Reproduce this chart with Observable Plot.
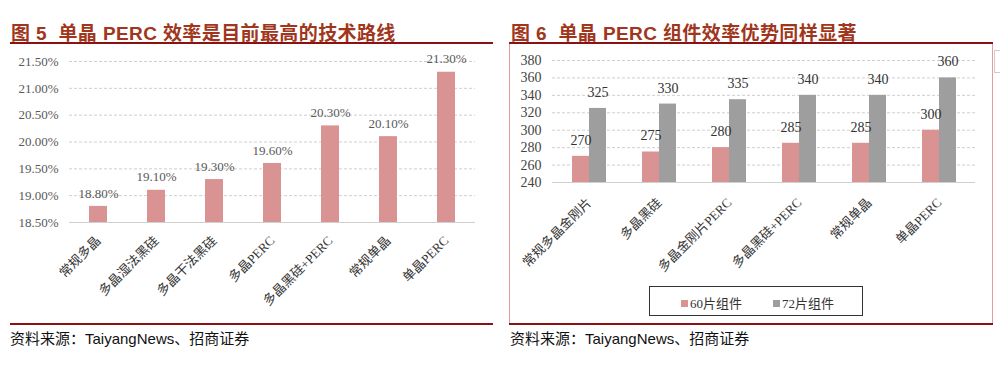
<!DOCTYPE html>
<html><head><meta charset="utf-8">
<script src="https://cdn.jsdelivr.net/npm/d3@7"></script>
<script src="https://cdn.jsdelivr.net/npm/@observablehq/plot@0.6"></script>
<style>
body{margin:0;background:#fff;}
#wrap{position:relative;width:1000px;height:375px;overflow:hidden;background:#fff;font-family:"Liberation Serif","Noto Sans CJK SC",serif;}
.title{position:absolute;top:18px;font-family:"Liberation Sans","Noto Sans CJK SC",sans-serif;font-weight:bold;font-size:19px;color:#A0361B;white-space:nowrap;letter-spacing:0.4px;}
.uline{position:absolute;top:42px;height:2px;background:#8B1212;}
.bline{position:absolute;top:323px;height:2px;background:#8B1212;}
.cap{position:absolute;top:327px;font-family:"Liberation Sans","Noto Sans CJK SC",sans-serif;font-size:15px;color:#111;white-space:nowrap;}
#box{position:absolute;left:509px;top:44px;width:482px;height:279px;border-left:1px solid #E59AA6;border-right:1px solid #E59AA6;box-sizing:content-box;}
#legend{position:absolute;left:649px;top:286px;width:212px;height:28px;border:1px solid #333;font-size:13px;color:#333;}
.li{position:absolute;top:6px;white-space:nowrap;}
.sw{display:inline-block;width:7px;height:7px;margin-right:2px;vertical-align:1px;}
#p1,#p2{position:absolute;}
#p1{left:0;top:44px;}
#p2{left:510px;top:44px;}
#gbox{position:absolute;left:994px;top:50px;width:12px;height:21px;border:1px solid #ccc;}
</style></head>
<body><div id="wrap">
<div class="title" style="left:11px;">图 5&nbsp;&nbsp;单晶 PERC 效率是目前最高的技术路线</div>
<div class="title" style="left:511px;">图 6&nbsp;&nbsp;单晶 PERC 组件效率优势同样显著</div>
<div class="uline" style="left:10px;width:483px;"></div>
<div class="uline" style="left:509px;width:484px;"></div>
<div id="p1"></div>
<div id="box"></div>
<div id="p2"></div>
<div id="legend">
  <span class="li" style="left:31px;"><span class="sw" style="background:#D99393"></span>60片组件</span>
  <span class="li" style="left:123px;"><span class="sw" style="background:#9E9E9E"></span>72片组件</span>
</div>
<div class="bline" style="left:10px;width:483px;"></div>
<div class="bline" style="left:509px;width:484px;"></div>
<div class="cap" style="left:10px;">资料来源：TaiyangNews、招商证券</div>
<div class="cap" style="left:510px;">资料来源：TaiyangNews、招商证券</div>
<div id="gbox"></div>
</div>
<script>
// Chart 5 data
const techCats = ["常规多晶","多晶湿法黑硅","多晶干法黑硅","多晶PERC","多晶黑硅+PERC","常规单晶","单晶PERC"];
const techEff = [18.80, 19.10, 19.30, 19.60, 20.30, 20.10, 21.30];
const effTicks = [18.5, 19.0, 19.5, 20.0, 20.5, 21.0, 21.5];

// Chart 6 data
const modCats = ["常规多晶金刚片","多晶黑硅","多晶金刚片PERC","多晶黑硅+PERC","常规单晶","单晶PERC"];
const mod60 = [270, 275, 280, 285, 285, 300];
const mod72 = [325, 330, 335, 340, 340, 360];
const powTicks = [240, 260, 280, 300, 320, 340, 360, 380];

const RED = "#D99393", GRAY = "#9E9E9E";
const serif = "Liberation Serif, Noto Sans CJK SC, serif";

const d1 = techCats.map((c,i)=>({cat:c, v:techEff[i]}));
const p1 = Plot.plot({
  width: 490, height: 280,
  marginLeft: 69, marginRight: 15, marginTop: 17, marginBottom: 102,
  style: {fontFamily: serif, background: "transparent", overflow: "visible"},
  x: {domain: techCats, paddingInner: 0.69, paddingOuter: 0.345, label: null},
  y: {domain: [18.5, 21.5], label: null},
  marks: [
    Plot.gridY(effTicks.slice(1), {stroke: "#cfcfcf", strokeOpacity: 1, strokeDasharray: "3,2"}),
    Plot.barY(d1, {x: "cat", y1: 18.5, y2: "v", fill: RED}),
    Plot.ruleY([18.5], {stroke: "#d0d0d0", strokeWidth: 1.2}),
    Plot.text(d1, {x: "cat", y: "v", text: d => d.v.toFixed(2) + "%", dy: -13, fontSize: 13, fill: "#595959"}),
    Plot.axisY({ticks: effTicks, tickFormat: d => d.toFixed(2) + "%", tickSize: 0, tickPadding: 11, fontSize: 13, fill: "#595959"}),
    Plot.axisX({tickSize: 0, tickRotate: -45, tickPadding: 16, fontSize: 13, fill: "#333"})
  ]
});
document.getElementById("p1").appendChild(p1);

const d2 = modCats.map((c,i)=>({cat:c, a:mod60[i], b:mod72[i]}));
const p2 = Plot.plot({
  width: 482, height: 279,
  marginLeft: 42, marginRight: 17, marginTop: 16, marginBottom: 141,
  style: {fontFamily: serif, background: "transparent", overflow: "visible"},
  x: {domain: modCats, paddingInner: 0.518, paddingOuter: 0.259, label: null},
  y: {domain: [240, 380], label: null},
  marks: [
    Plot.gridY(powTicks.slice(1), {stroke: "#cfcfcf", strokeOpacity: 1, strokeDasharray: "3,2"}),
    Plot.barY(d2, {x: "cat", y1: 240, y2: "a", fill: RED, insetRight: 17}),
    Plot.barY(d2, {x: "cat", y1: 240, y2: "b", fill: GRAY, insetLeft: 17}),
    Plot.ruleY([240], {stroke: "#d0d0d0", strokeWidth: 1.2}),
    Plot.text(d2, {x: "cat", y: "a", text: "a", dx: -8.5, dy: -16, fontSize: 14, fill: "#333"}),
    Plot.text(d2, {x: "cat", y: "b", text: "b", dx: 8.5, dy: -16, fontSize: 14, fill: "#333"}),
    Plot.axisY({ticks: powTicks, tickSize: 0, tickPadding: 11, fontSize: 14, fill: "#444"}),
    Plot.axisX({tickSize: 0, tickRotate: -45, tickPadding: 18, fontSize: 13, fill: "#333"})
  ]
});
document.getElementById("p2").appendChild(p2);
</script>
</body></html>
